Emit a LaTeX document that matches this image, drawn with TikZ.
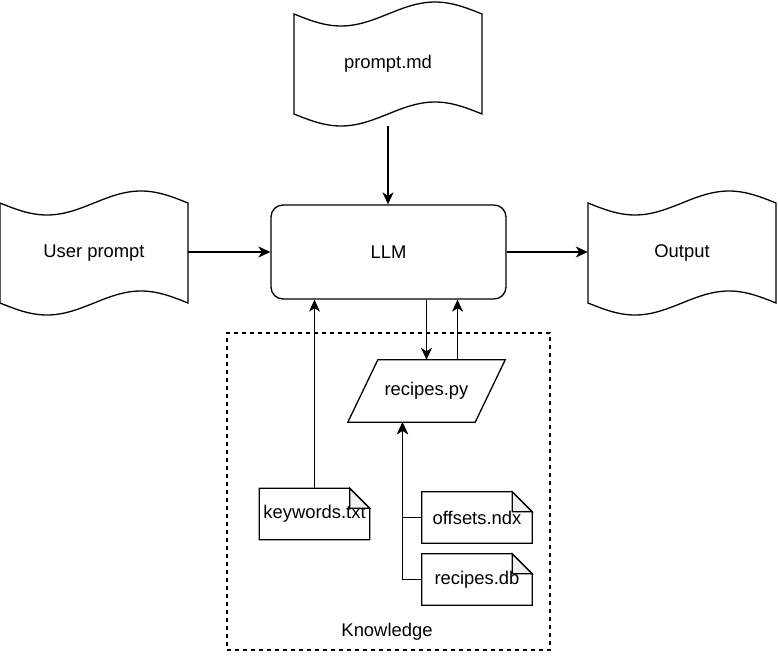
\documentclass[tikz,border=0pt]{standalone}
\usepackage{fontspec}
\setmainfont{Liberation Sans}
\usetikzlibrary{arrows.meta,calc}

\tikzset{
	arr/.style={-{Stealth[length=12pt,width=11pt,inset=3.5pt]},line width=1.3pt},
	tapebox/.style={minimum width=188pt,minimum height=124pt,inner sep=0pt},
	llmbox/.style={draw,line width=1.3pt,rounded corners=12pt,minimum width=235pt,minimum height=94pt},
	scriptbox/.style={minimum width=157pt,minimum height=62pt,inner sep=0pt},
	filebox/.style={minimum width=110pt,minimum height=51pt,inner sep=0pt},
	groupbox/.style={draw,line width=1.1pt,dash pattern=on 4pt off 4pt,minimum width=323pt,minimum height=317pt}
}

% wavy outline round a tape node
\newcommand\tapeline[1]{%
	\draw[line width=1.3pt,shift={(#1.center)}] (-94,-50) sin (-47,-38) cos (0,-50) sin (47,-62) cos (94,-50)
	-- (94,50) sin (47,38) cos (0,50) sin (-47,62) cos (-94,50) -- cycle;}

% slanted outline round a script node
\newcommand\slantline[1]{%
	\draw[line width=1.3pt] (#1.south west) -- ([xshift=-30pt]#1.south east) -- (#1.north east)
	-- ([xshift=30pt]#1.north west) -- cycle;}

% file outline with folded corner
\newcommand\noteline[1]{%
	\draw[line width=1.3pt] (#1.north west) -- ([xshift=-20pt]#1.north east) -- ([yshift=-20pt]#1.north east)
	-- (#1.south east) -- (#1.south west) -- cycle;
	\draw[line width=1.3pt,fill=gray!12] ([xshift=-20pt]#1.north east) -- ([xshift=-20pt,yshift=-20pt]#1.north east)
	-- ([yshift=-20pt]#1.north east) -- cycle;}

\begin{document}
\begin{tikzpicture}[x=1pt,y=-1pt,font=\fontsize{18.4pt}{22pt}\selectfont]
	\useasboundingbox (0,0) rectangle (778,656);

	% knowledge group
	\node[groupbox] (knowledge) at (388.5,491.5) {};
	\node (knowtext) at (387,632) {Knowledge};

	% inputs, model, output
	\node[tapebox] (prompt) at (388,64) {prompt.md};
	\tapeline{prompt}
	\node[tapebox] (user) at (94,253) {User prompt};
	\tapeline{user}
	\node[tapebox] (output) at (682,253) {Output};
	\tapeline{output}
	\node[llmbox] (llm) at (388.5,252) {LLM};

	% files
	\node[scriptbox] (recipes) at (426.5,391) {recipes.py};
	\slantline{recipes}
	\node[filebox] (keywords) at (314.5,514) {keywords.txt};
	\noteline{keywords}
	\node[filebox] (offsets) at (477,517.5) {offsets.ndx};
	\noteline{offsets}
	\node[filebox] (db) at (477,579.5) {recipes.db};
	\noteline{db}

	% connectors
	\draw[arr] (user.east |- llm.west) -- (llm.west);
	\draw[arr] (prompt.south) -- (prompt.south |- llm.north);
	\draw[arr] (llm.east) -- (llm.east -| output.west);
	\draw[arr] (keywords.north) -- (keywords.north |- llm.south);
	\draw[arr] (llm.south -| recipes.north) -- (recipes.north);
	\coordinate (back) at ($(recipes.north)+(31,0)$);
	\draw[arr] (back) -- (back |- llm.south);
	\coordinate (feed) at ($(recipes.south)+(-24,0)$);
	\draw[arr] (offsets.west) -| (feed);
	\draw[arr] (db.west) -| (feed);
\end{tikzpicture}
\end{document}
